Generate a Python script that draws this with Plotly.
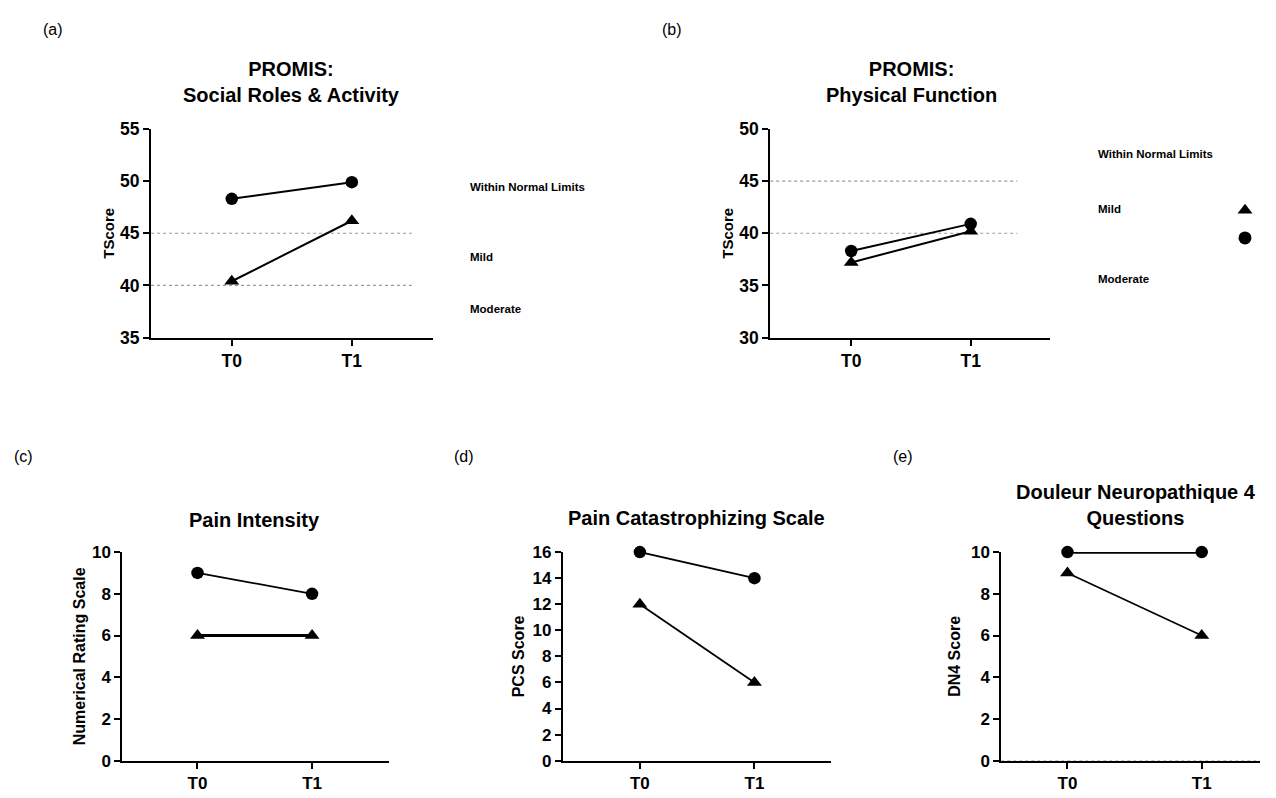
import plotly.graph_objects as go

# ---------------- data ----------------
timepoints = ["T0", "T1"]

# (a) PROMIS: Social Roles & Activity (T-score)
sra_circle = [48.3, 49.9]
sra_triangle = [40.4, 46.2]
sra_band_edges = [35, 40, 45, 55]

# (b) PROMIS: Physical Function (T-score)
pf_circle = [38.3, 40.9]
pf_triangle = [37.2, 40.2]
pf_band_edges = [30, 40, 45, 50]

band_labels = ["Moderate", "Mild", "Within Normal Limits"]

# (c) Pain Intensity (NRS)
nrs_circle = [9, 8]
nrs_triangle = [6, 6]

# (d) Pain Catastrophizing Scale
pcs_circle = [16, 14]
pcs_triangle = [12, 6]

# (e) DN4
dn4_circle = [10, 10]
dn4_triangle = [9, 6]

# ---------------- layout helpers ----------------
W, H = 1276, 798
FONT = "Liberation Sans, Arial, sans-serif"


def px(x):
    return min(x / W, 1.0)


def py(y):
    return 1 - y / H


panels = [
    dict(key="", letter="(a)", letter_pos=(42, 20),
         title="PROMIS:<br>Social Roles & Activity", title_pos=(295, 74),
         xdom=(153, 438), ydom=(122, 336), xrange=(-0.672, 1.672),
         yrange=(35, 55), dtick=5, ytitle="TScore", tsize=15, standoff=2, tick=17.5,
         circle=sra_circle, triangle=sra_triangle, lw_c=2, lw_t=2,
         bands=sra_band_edges, bracket_x=459, label_x=474, dot_end=1.5,
         label_y=[37.7, 42.75, 49.4]),
    dict(key="2", letter="(b)", letter_pos=(668, 20),
         title="PROMIS:<br>Physical Function", title_pos=(923, 74),
         xdom=(780, 1063), ydom=(122, 336), xrange=(-0.678, 1.661),
         yrange=(30, 50), dtick=5, ytitle="TScore", tsize=15, standoff=2, tick=17.5,
         circle=pf_circle, triangle=pf_triangle, lw_c=2, lw_t=2,
         bands=pf_band_edges, bracket_x=1086, label_x=1110, dot_end=1.39,
         label_y=[35.6, 42.3, 47.6]),
    dict(key="3", letter="(c)", letter_pos=(12, 458),
         title="Pain Intensity", title_pos=(258, 523),
         xdom=(124, 394), ydom=(556, 770), xrange=(-0.655, 1.672),
         yrange=(0, 10), dtick=2, ytitle="Numerical Rating Scale", tsize=16, standoff=3, tick=17,
         circle=nrs_circle, triangle=nrs_triangle, lw_c=1.7, lw_t=3),
    dict(key="4", letter="(d)", letter_pos=(458, 458),
         title="Pain Catastrophizing Scale", title_pos=(705, 521),
         xdom=(570, 842), ydom=(556, 770), xrange=(-0.672, 1.672),
         yrange=(0, 16), dtick=2, ytitle="PCS Score", tsize=16, standoff=4, tick=17,
         circle=pcs_circle, triangle=pcs_triangle, lw_c=1.8, lw_t=1.8),
    dict(key="5", letter="(e)", letter_pos=(902, 458),
         title="Douleur Neuropathique 4<br>Questions", title_pos=(1150, 508),
         xdom=(1014, 1276), ydom=(556, 770), xrange=(-0.493, 1.434),
         yrange=(0, 10), dtick=2, ytitle="DN4 Score", tsize=16, standoff=6, tick=17,
         circle=dn4_circle, triangle=dn4_triangle, lw_c=3.2, lw_t=1.7,
         zero_dot=True),
]

fig = go.Figure()
layout = dict(
    width=W, height=H,
    margin=dict(l=0, r=0, t=0, b=0, pad=0),
    paper_bgcolor="white", plot_bgcolor="white",
    font=dict(family=FONT, color="black"),
    showlegend=True,
)
annotations = []
shapes = []

axis_line = dict(showline=True, linecolor="black", linewidth=2, showgrid=False,
                 zeroline=False, ticks="outside", ticklen=6, tickwidth=2,
                 tickcolor="black")

extra_axis = 6
for p in panels:
    k = p["key"]
    xa, ya = "xaxis" + k, "yaxis" + k
    xr, yr = "x" + k, "y" + k
    layout[xa] = dict(axis_line, domain=[px(p["xdom"][0]), px(p["xdom"][1])],
                      anchor=yr, type="category", range=list(p["xrange"]),
                      tickfont=dict(family=FONT, size=p["tick"], weight="bold"),
                      fixedrange=True)
    layout[ya] = dict(axis_line, domain=[py(p["ydom"][1]), py(p["ydom"][0])],
                      anchor=xr, range=list(p["yrange"]), dtick=p["dtick"], tick0=0,
                      tickfont=dict(family=FONT, size=p["tick"], weight="bold"),
                      title=dict(text=p["ytitle"], standoff=p["standoff"],
                                 font=dict(family=FONT, size=p["tsize"], weight="bold")),
                      fixedrange=True)

    fig.add_trace(go.Scatter(x=timepoints, y=p["triangle"], mode="lines+markers",
                             xaxis=xr, yaxis=yr, showlegend=False, cliponaxis=False,
                             line=dict(color="black", width=p["lw_t"]),
                             marker=dict(symbol="triangle-up", size=13, color="black")))
    fig.add_trace(go.Scatter(x=timepoints, y=p["circle"], mode="lines+markers",
                             xaxis=xr, yaxis=yr, showlegend=False, cliponaxis=False,
                             line=dict(color="black", width=p["lw_c"]),
                             marker=dict(symbol="circle", size=12.5, color="black")))

    annotations.append(dict(text=p["letter"], xref="paper", yref="paper",
                            x=px(p["letter_pos"][0]), y=py(p["letter_pos"][1]),
                            xanchor="left", yanchor="middle", showarrow=False,
                            font=dict(family=FONT, size=16)))
    annotations.append(dict(text=p["title"], xref="paper", yref="paper",
                            x=px(p["title_pos"][0]), y=py(p["title_pos"][1]),
                            xanchor="center", yanchor="middle", showarrow=False,
                            font=dict(family=FONT, size=20, weight="bold")))

    if "bands" in p:
        edges = p["bands"]
        for v in edges[1:-1]:
            shapes.append(dict(type="line", xref=xr, yref=yr,
                               x0=p["xrange"][0], x1=p["dot_end"], y0=v, y1=v,
                               line=dict(color="#9a9a9a", width=1.2, dash="dot"),
                               layer="below"))
        bname = "yaxis" + str(extra_axis)
        layout[bname] = dict(overlaying=yr, side="right", anchor="free",
                             position=px(p["bracket_x"]), range=list(p["yrange"]),
                             showline=True, linecolor="#222", linewidth=1.5,
                             showgrid=False, zeroline=False, ticks="inside",
                             ticklen=15, tickwidth=2, tickcolor="black",
                             tickvals=edges, showticklabels=False, fixedrange=True)
        extra_axis += 1
        for lab, ly in zip(band_labels, p["label_y"]):
            annotations.append(dict(text=lab, xref="paper", yref=yr,
                                    x=px(p["label_x"]), y=ly,
                                    xanchor="left", yanchor="middle", showarrow=False,
                                    font=dict(family=FONT, size=11.5, weight="bold")))

    if p.get("zero_dot"):
        shapes.append(dict(type="line", xref=xr, yref=yr,
                           x0=p["xrange"][0], x1=p["xrange"][1], y0=0, y1=0,
                           line=dict(color="#9a9a9a", width=1, dash="dot"),
                           layer="above"))

# legend (symbols only, no text)
for sym in ["triangle-up", "circle"]:
    fig.add_trace(go.Scatter(x=[None], y=[None], mode="markers", name=" ",
                             xaxis="x2", yaxis="y2", showlegend=True,
                             marker=dict(symbol=sym, size=13, color="black")))

layout["legend"] = dict(x=px(1241), y=py(186), xanchor="left", yanchor="top",
                        bgcolor="rgba(0,0,0,0)", font=dict(size=19),
                        itemwidth=30, traceorder="normal")
layout["annotations"] = annotations
layout["shapes"] = shapes
fig.update_layout(**layout)

# graph flush with the page corner (no default body margin)
post = (
    "document.documentElement.style.margin='0';"
    "document.body.style.margin='0';"
    "document.body.style.overflow='hidden';"
    "var gd=document.getElementById('{plot_id}');"
    "gd.style.position='absolute';gd.style.left='0px';gd.style.top='0px';"
)
fig.write_html("out.html", config={"displayModeBar": False}, post_script=post)
